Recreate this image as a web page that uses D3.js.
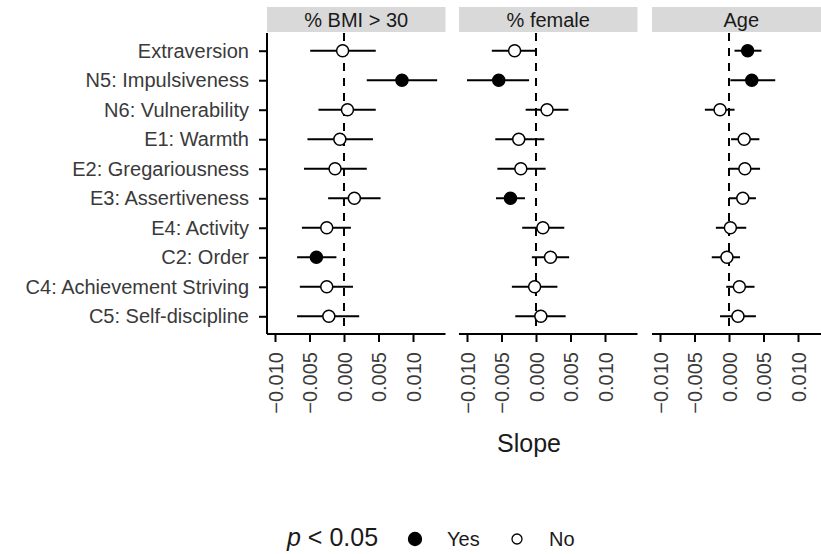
<!DOCTYPE html>
<html>
<head>
<meta charset="utf-8">
<script src="https://cdn.jsdelivr.net/npm/d3@7"></script>
<style>
  body { margin:0; background:#fff; }
  svg { font-family: "Liberation Sans", Arial, sans-serif; }
</style>
</head>
<body>
<svg id="chart" width="821" height="554"></svg>
<script>
// categories, top to bottom
const traits = ['Extraversion','N5: Impulsiveness','N6: Vulnerability','E1: Warmth','E2: Gregariousness',
                'E3: Assertiveness','E4: Activity','C2: Order','C4: Achievement Striving','C5: Self-discipline'];
const panels = ['% BMI > 30','% female','Age'];
const xTicks = [-0.010,-0.005,0.000,0.005,0.010];

// slope estimates and intervals, one array per panel (same order as traits)
const bmiSlope  = [-0.0002, 0.0084, 0.0005,-0.0006,-0.0013, 0.0015,-0.0025,-0.0040,-0.0025,-0.0022];
const bmiLow    = [-0.0049, 0.0033,-0.0037,-0.0053,-0.0058,-0.0023,-0.0061,-0.0068,-0.0064,-0.0068];
const bmiHigh   = [ 0.0046, 0.0135, 0.0046, 0.0042, 0.0033, 0.0053, 0.0010,-0.0011, 0.0013, 0.0022];
const bmiSig    = [0,1,0,0,0,0,0,1,0,0];

const femSlope  = [-0.0031,-0.0054, 0.0016,-0.0025,-0.0022,-0.0037, 0.0010, 0.0021,-0.0002, 0.0007];
const femLow    = [-0.0064,-0.0100,-0.0015,-0.0059,-0.0056,-0.0058,-0.0020,-0.0006,-0.0035,-0.0030];
const femHigh   = [-0.0001,-0.0010, 0.0047, 0.0012, 0.0014,-0.0016, 0.0041, 0.0048, 0.0031, 0.0043];
const femSig    = [0,1,0,0,0,1,0,0,0,0];

const ageSlope  = [ 0.0027, 0.0033,-0.0013, 0.0022, 0.0023, 0.0020, 0.0002,-0.0003, 0.0015, 0.0013];
const ageLow    = [ 0.0008, 0.0002,-0.0035, 0.0003, 0.0000, 0.0000,-0.0019,-0.0025,-0.0004,-0.0013];
const ageHigh   = [ 0.0047, 0.0067, 0.0008, 0.0044, 0.0045, 0.0039, 0.0025, 0.0016, 0.0037, 0.0039];
const ageSig    = [1,1,0,0,0,0,0,0,0,0];

const series = [
    {slope:bmiSlope, low:bmiLow, high:bmiHigh, sig:bmiSig},
    {slope:femSlope, low:femLow, high:femHigh, sig:femSig},
    {slope:ageSlope, low:ageLow, high:ageHigh, sig:ageSig}
];

const svg = d3.select('#chart');
const panelLeft = [267, 459, 652],
      panelW = 178.5,
      plotTop = 33, plotBottom = 334,
      stripTop = 7;

const y = d3.scalePoint().domain(traits).range([plotTop, plotBottom]).padding(0.6);
const domainX = [-0.01116, 0.01471];

panels.forEach((name, p) => {
    const x = d3.scaleLinear().domain(domainX).range([panelLeft[p], panelLeft[p] + panelW]);
    const g = svg.append('g').attr('class', 'panel');
    const s = series[p];
    const rows = traits.map((t, i) => ({trait:t, slope:s.slope[i], low:s.low[i], high:s.high[i], sig:s.sig[i]}));

    // strip
    g.append('rect')
        .attr('x', panelLeft[p]).attr('y', stripTop)
        .attr('width', panelW).attr('height', plotTop - stripTop - 1)
        .attr('fill', '#d9d9d9');
    g.append('text')
        .attr('x', panelLeft[p] + panelW / 2).attr('y', (stripTop + plotTop) / 2)
        .attr('dy', '0.35em').attr('text-anchor', 'middle')
        .attr('font-size', 20).attr('fill', '#1a1a1a')
        .text(name);

    // zero line
    g.append('line')
        .attr('x1', x(0)).attr('x2', x(0))
        .attr('y1', plotTop).attr('y2', plotBottom)
        .attr('stroke', '#000').attr('stroke-width', 2)
        .attr('stroke-dasharray', '8,7');

    // intervals
    g.selectAll('line.ci')
        .data(rows)
        .join('line')
        .attr('class', 'ci')
        .attr('x1', d => x(d.low)).attr('x2', d => x(d.high))
        .attr('y1', d => y(d.trait)).attr('y2', d => y(d.trait))
        .attr('stroke', '#000').attr('stroke-width', 2);

    // points
    g.selectAll('circle.pt')
        .data(rows)
        .join('circle')
        .attr('class', 'pt')
        .attr('cx', d => x(d.slope)).attr('cy', d => y(d.trait))
        .attr('r', 6)
        .attr('fill', d => d.sig ? '#000' : '#fff')
        .attr('stroke', '#000').attr('stroke-width', 1.5);

    // x axis
    const ax = g.append('g')
        .attr('transform', `translate(0,${plotBottom})`)
        .call(d3.axisBottom(x).tickValues(xTicks).tickSize(8).tickFormat(d3.format('.3f')));
    ax.select('.domain').attr('stroke-width', 2).attr('d', `M${panelLeft[p]},0H${panelLeft[p] + panelW}`);
    ax.selectAll('.tick line').attr('stroke-width', 2);
    ax.selectAll('.tick text')
        .attr('font-size', 20).attr('fill', '#3a3a3a')
        .attr('transform', 'rotate(-90)')
        .attr('text-anchor', 'end')
        .attr('x', -18).attr('y', 0).attr('dy', '0.35em');

    // y axis only on the first panel
    if (p === 0) {
        const ay = g.append('g')
            .attr('transform', `translate(${panelLeft[p]},0)`)
            .call(d3.axisLeft(y).tickSize(8).tickPadding(10));
        ay.select('.domain').attr('stroke-width', 2).attr('d', `M0,${plotTop}V${plotBottom}`);
        ay.selectAll('.tick line').attr('stroke-width', 2);
        ay.selectAll('.tick text').attr('font-size', 20).attr('fill', '#3a3a3a');
    }
});

svg.selectAll('.tick text').attr('font-family', '"Liberation Sans", Arial, sans-serif');

// axis title
svg.append('text')
    .attr('x', 529).attr('y', 452)
    .attr('text-anchor', 'middle')
    .attr('font-size', 25).attr('fill', '#1a1a1a')
    .text('Slope');

// legend
const legend = svg.append('g');
const lt = legend.append('text').attr('x', 287).attr('y', 546).attr('font-size', 25).attr('fill', '#1a1a1a');
lt.append('tspan').attr('font-style', 'italic').text('p');
lt.append('tspan').text(' < 0.05');
const keys = [{label:'Yes', fill:'#000', cx:415, tx:447, r:6.5}, {label:'No', fill:'#fff', cx:517, tx:549, r:5}];
legend.selectAll('circle')
    .data(keys)
    .join('circle')
    .attr('cx', d => d.cx).attr('cy', 539).attr('r', d => d.r)
    .attr('fill', d => d.fill).attr('stroke', '#000').attr('stroke-width', 1.3);
legend.selectAll('text.key')
    .data(keys)
    .join('text')
    .attr('class', 'key')
    .attr('x', d => d.tx).attr('y', 546)
    .attr('font-size', 20).attr('fill', '#1a1a1a')
    .text(d => d.label);
</script>
</body>
</html>
